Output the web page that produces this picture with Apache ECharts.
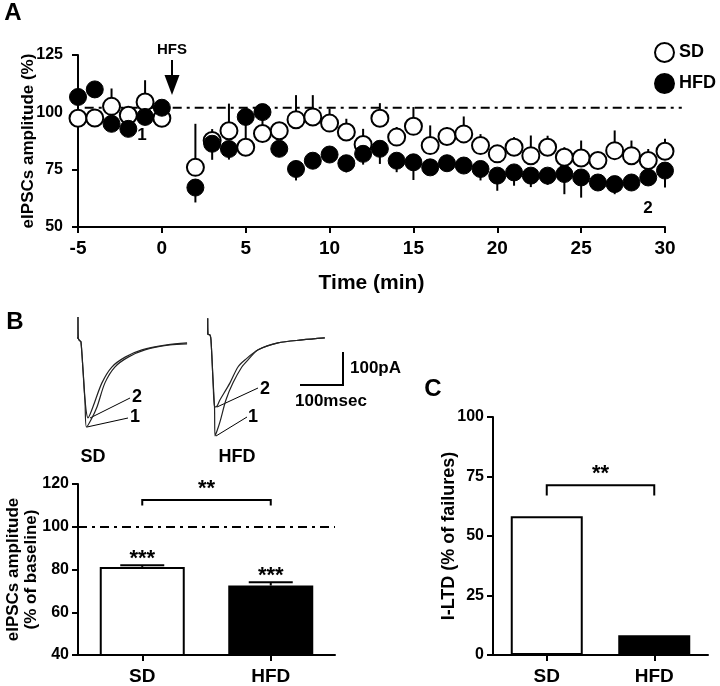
<!DOCTYPE html>
<html lang="en">
<head>
<meta charset="UTF-8">
<title>I-LTD in SD and HFD</title>
<script src="https://cdn.jsdelivr.net/npm/echarts@6/dist/echarts.min.js"></script>
<style>html,body{margin:0;background:#fff;}</style>
</head>
<body>
<div id="main" style="width:720px;height:686px;"></div>
<script>
// ---- panel A: time course (% of baseline) ----
const times = [-5, -4, -3, -2, -1, 0, 2, 3, 4, 5, 6, 7, 8, 9, 10, 11, 12, 13, 14, 15, 16, 17, 18, 19, 20, 21, 22, 23, 24, 25, 26, 27, 28, 29, 30];
const sdMean = [97.4, 97.5, 102.6, 98.7, 104.5, 97.4, 76, 87.7, 92, 84.8, 90.8, 92, 96.8, 98, 95.3, 91.4, 86, 97.4, 89.2, 93.9, 85.5, 89.5, 90.6, 85.5, 81.9, 84.8, 81.1, 84.8, 80.4, 80.1, 79, 83.3, 81.1, 79, 83];
const sdErr = [0, 0, 7.8, 0, 9.5, 2, 19, 5, 11.8, 0, 0, 3, 10.7, 9.5, 6.3, 5.8, 6.8, 6.6, 4.4, 8.4, 8.8, 4, 7.6, 5, 3, 4.4, 8.8, 5, 4.4, 7.6, 3, 8.8, 6.6, 5, 5.5];
const hfdMean = [106.7, 110, 95, 92.8, 98, 102, 67.2, 86.3, 84, 98, 100.1, 84.1, 75.3, 78.9, 81.6, 77.8, 81.9, 84.1, 78.9, 78.2, 76, 77.8, 76.8, 75.3, 72.4, 73.8, 72.4, 72.4, 73.1, 71.6, 69.4, 68.7, 69.4, 71.6, 74.6];
const hfdErr = [0, 0, 0, 3, 0, 0, 6.5, 7, 4.6, 13, 8, 0, 5, 2, 2, 4, 4.7, 6.6, 5, 7.7, 3, 3, 3, 5, 6.6, 5.8, 5, 4, 8.8, 8.8, 3, 4.4, 3, 3, 7.4];
const baselineA = 102;

// ---- panel B: mean amplitude ----
const groups = ['SD', 'HFD'];
const ampMean = [81.2, 72.5];
const ampErr = [0.8, 1.5];

// ---- panel C: % of failures ----
const failPct = [58.3, 8.3];

// ---- panel B traces, [ms, pA] ----
const sdTrace1 = [[-8, 0], [-4.7, 0], [-4.7, 64], [-4.2, 0], [-3, -4], [0, -9], [2.3, -12], [7, -97], [11.6, -188], [15, -270], [25.6, -248], [39.5, -209], [58, -136], [81, -88], [112, -58], [151, -36], [209, -21], [249, -18]];
const sdTrace2 = [[-8, 0], [-4.7, 0], [-4.7, 64], [-4.2, 0], [-3, -4], [0, -9], [2.3, -12], [7, -97], [11.6, -188], [18.6, -242], [30, -209], [51, -136], [74, -88], [105, -58], [144, -36], [202, -21], [249, -15]];
const hfdTrace1 = [[-8, 0], [-5.3, 0], [-5.3, 48], [-4.7, 0], [0, -3], [2.3, -18], [7, -139], [10.5, -221], [11.6, -309], [23, -267], [37, -200], [53.5, -148], [74, -100], [88, -79], [112, -48], [158, -27], [214, -18], [267, -12]];
const hfdTrace2 = [[-8, 0], [-5.3, 0], [-5.3, 48], [-4.7, 0], [0, -3], [2.3, -18], [7, -139], [10.5, -221], [14, -221], [23, -200], [46.5, -148], [65, -100], [81, -79], [112, -48], [158, -27], [214, -18], [267, -12]];

const FONT = "'Liberation Sans', Arial, sans-serif";
const dashDot = [9, 5, 3, 5];

let myChart = echarts.init(document.getElementById('main'));

function axisBase(fontSize) {
  return {
    nameMoveOverlap: false,
    axisLine: { show: true, onZero: false, lineStyle: { color: '#000', width: 2 } },
    axisTick: { show: true, length: 6, lineStyle: { color: '#000', width: 2 } },
    axisLabel: { color: '#000', fontWeight: 'bold', fontSize: fontSize, fontFamily: FONT },
    splitLine: { show: false },
    nameTextStyle: { color: '#000', fontWeight: 'bold', fontFamily: FONT }
  };
}
function merge(a, b) {
  const out = Object.assign({}, a, b);
  ['axisLine', 'axisTick', 'axisLabel', 'nameTextStyle'].forEach(k => {
    if (a[k] && b[k]) out[k] = Object.assign({}, a[k], b[k]);
  });
  return out;
}
function hiddenAxis(extra) {
  return Object.assign({ type: 'value', show: false, splitLine: { show: false } }, extra);
}

// vertical error bar (one-sided), value 2 is signed
function errLine(params, api) {
  const p0 = api.coord([api.value(0), api.value(1)]);
  const p1 = api.coord([api.value(0), api.value(1) + api.value(2)]);
  return { type: 'line', shape: { x1: p0[0], y1: p0[1], x2: p1[0], y2: p1[1] },
    style: { stroke: '#000', lineWidth: 2 } };
}
// horizontal dash-dot reference line [x0, x1, y]
function refLine(params, api) {
  const a = api.coord([api.value(0), api.value(2)]);
  const b = api.coord([api.value(1), api.value(2)]);
  return { type: 'line', shape: { x1: a[0], y1: a[1], x2: b[0], y2: b[1] },
    style: { stroke: '#000', lineWidth: 2, lineDash: dashDot } };
}
// bar error bar with cap and stars
function barErr(params, api) {
  const p0 = api.coord([api.value(0), api.value(1)]);
  const p1 = api.coord([api.value(0), api.value(1) + api.value(2)]);
  return { type: 'group', children: [
    { type: 'line', shape: { x1: p0[0], y1: p0[1], x2: p1[0], y2: p1[1] }, style: { stroke: '#000', lineWidth: 2 } },
    { type: 'line', shape: { x1: p1[0] - 22, y1: p1[1], x2: p1[0] + 22, y2: p1[1] }, style: { stroke: '#000', lineWidth: 2 } },
    { type: 'text', x: p1[0], y: p1[1] - 6, style: { text: '***', fontSize: 22, fontWeight: 'bold', fontFamily: FONT, align: 'center', verticalAlign: 'middle', fill: '#000' } }
  ] };
}
// significance bracket between two categories
function bracket(params, api) {
  const a = api.coord([api.value(0), api.value(2)]);
  const b = api.coord([api.value(1), api.value(2)]);
  const leg = api.coord([api.value(0), api.value(3)])[1];
  return { type: 'group', children: [
    { type: 'polyline', shape: { points: [[a[0], leg], [a[0], a[1]], [b[0], b[1]], [b[0], leg]] }, style: { stroke: '#000', lineWidth: 2, fill: null } },
    { type: 'text', x: (a[0] + b[0]) / 2, y: a[1] - 11, style: { text: '**', fontSize: 22, fontWeight: 'bold', fontFamily: FONT, align: 'center', verticalAlign: 'middle', fill: '#000' } }
  ] };
}

const txt = (x, y, text, size, align) => ({
  type: 'text', x: x, y: y,
  style: { text: text, fontSize: size, fontWeight: 'bold', fontFamily: FONT, fill: '#000', align: align || 'center', verticalAlign: 'middle' }
});
const seg = (x1, y1, x2, y2, w) => ({
  type: 'line', shape: { x1: x1, y1: y1, x2: x2, y2: y2 }, style: { stroke: '#000', lineWidth: w || 1 }
});

let options = {
  animation: false,
  backgroundColor: '#fff',
  textStyle: { fontFamily: FONT },
  legend: {
    data: ['SD', 'HFD'], orient: 'vertical', left: 649, top: 37,
    icon: 'circle', itemWidth: 19, itemHeight: 19, itemGap: 10,
    textStyle: { fontSize: 18, fontWeight: 'bold', fontFamily: FONT, color: '#000' }
  },
  grid: [
    { left: 78, top: 55, width: 587, height: 172 },
    { left: 78, top: 484, width: 257, height: 173 },
    { left: 493, top: 417, width: 215, height: 240 },
    { left: 77.85, top: 314.9, width: 109.65, height: 122.1 },
    { left: 207.85, top: 314.2, width: 118.25, height: 125.4 }
  ],
  xAxis: [
    merge(axisBase(19), { gridIndex: 0, type: 'value', min: -5, max: 30, interval: 5,
      name: 'Time (min)', nameLocation: 'middle', nameGap: 46,
      nameTextStyle: { fontSize: 21 }, axisLabel: { margin: 12 } }),
    merge(axisBase(19), { gridIndex: 1, type: 'category', data: groups,
      axisTick: { alignWithLabel: true }, axisLabel: { margin: 12 } }),
    merge(axisBase(19), { gridIndex: 2, type: 'category', data: groups,
      axisTick: { alignWithLabel: true }, axisLabel: { margin: 12 } }),
    hiddenAxis({ gridIndex: 3, min: -5, max: 250 }),
    hiddenAxis({ gridIndex: 4, min: -5, max: 270 })
  ],
  yAxis: [
    merge(axisBase(16), { gridIndex: 0, type: 'value', min: 50, max: 125, interval: 25,
      name: 'eIPSCs amplitude (%)', nameLocation: 'middle', nameGap: 41,
      nameTextStyle: { fontSize: 17 }, axisLabel: { margin: 15 } }),
    merge(axisBase(16), { gridIndex: 1, type: 'value', min: 40, max: 120, interval: 20,
      name: 'eIPSCs amplitude\n(% of baseline)', nameLocation: 'middle', nameGap: 38,
      nameTextStyle: { fontSize: 17, lineHeight: 18 }, axisLabel: { margin: 9 } }),
    merge(axisBase(16), { gridIndex: 2, type: 'value', min: 0, max: 100, interval: 25,
      name: 'I-LTD (% of failures)', nameLocation: 'middle', nameGap: 35,
      nameTextStyle: { fontSize: 18 }, axisLabel: { margin: 9 } }),
    hiddenAxis({ gridIndex: 3, min: -300, max: 70 }),
    hiddenAxis({ gridIndex: 4, min: -320, max: 60 })
  ],
  series: [
    { name: 'baseline', type: 'custom', xAxisIndex: 0, yAxisIndex: 0, renderItem: refLine,
      data: [[-4.6, 31, baselineA]] },
    { name: 'SD err', type: 'custom', xAxisIndex: 0, yAxisIndex: 0, renderItem: errLine,
      data: times.map((t, i) => [t, sdMean[i], sdErr[i]]) },
    { name: 'SD', type: 'scatter', xAxisIndex: 0, yAxisIndex: 0, symbolSize: 17, clip: false,
      itemStyle: { color: '#fff', borderColor: '#000', borderWidth: 2, opacity: 1 },
      data: times.map((t, i) => [t, sdMean[i]]) },
    { name: 'HFD err', type: 'custom', xAxisIndex: 0, yAxisIndex: 0, renderItem: errLine,
      data: times.map((t, i) => [t, hfdMean[i], -hfdErr[i]]) },
    { name: 'HFD', type: 'scatter', xAxisIndex: 0, yAxisIndex: 0, symbolSize: 17, clip: false,
      itemStyle: { color: '#000', borderColor: '#000', borderWidth: 1, opacity: 1 },
      data: times.map((t, i) => [t, hfdMean[i]]) },

    { name: 'amp', type: 'bar', xAxisIndex: 1, yAxisIndex: 1, barWidth: 85,
      data: ampMean.map((v, i) => ({ value: v, itemStyle: i === 0
        ? { color: '#fff', borderColor: '#000', borderWidth: 2 }
        : { color: '#000', borderColor: '#000', borderWidth: 2 } })),
      markLine: { silent: true, symbol: 'none', label: { show: false },
        lineStyle: { color: '#000', width: 2, type: dashDot }, data: [{ yAxis: 100 }] } },
    { name: 'amp err', type: 'custom', xAxisIndex: 1, yAxisIndex: 1, renderItem: barErr,
      data: ampMean.map((v, i) => [i, v, ampErr[i]]) },
    { name: 'amp sig', type: 'custom', xAxisIndex: 1, yAxisIndex: 1, renderItem: bracket,
      data: [[0, 1, 112.5, 110]] },

    { name: 'fail', type: 'bar', xAxisIndex: 2, yAxisIndex: 2, barWidth: 72,
      data: failPct.map((v, i) => ({ value: v, itemStyle: i === 0
        ? { color: '#fff', borderColor: '#000', borderWidth: 2 }
        : { color: '#000', borderColor: '#000', borderWidth: 2 } })) },
    { name: 'fail sig', type: 'custom', xAxisIndex: 2, yAxisIndex: 2, renderItem: bracket,
      data: [[0, 1, 71.3, 67]] },

    { type: 'line', xAxisIndex: 3, yAxisIndex: 3, data: sdTrace1, showSymbol: false, smooth: 0.3,
      lineStyle: { color: '#222', width: 1.2 } },
    { type: 'line', xAxisIndex: 3, yAxisIndex: 3, data: sdTrace2, showSymbol: false, smooth: 0.3,
      lineStyle: { color: '#222', width: 1.2 } },
    { type: 'line', xAxisIndex: 4, yAxisIndex: 4, data: hfdTrace1, showSymbol: false, smooth: 0.3,
      lineStyle: { color: '#222', width: 1.2 } },
    { type: 'line', xAxisIndex: 4, yAxisIndex: 4, data: hfdTrace2, showSymbol: false, smooth: 0.3,
      lineStyle: { color: '#222', width: 1.2 } }
  ],
  graphic: [
    txt(13, 13, 'A', 24), txt(15, 322, 'B', 24), txt(433, 389, 'C', 24),
    // HFS arrow
    txt(172, 50, 'HFS', 15),
    seg(172, 60, 172, 78, 2),
    { type: 'polygon', shape: { points: [[164.5, 75], [179.5, 75], [172, 95]] }, style: { fill: '#000' } },
    txt(142, 135, '1', 17), txt(648, 208, '2', 17),
    // trace labels
    seg(90, 418, 130, 398), seg(87, 427, 128, 418),
    txt(137, 397, '2', 18), txt(135, 417, '1', 18),
    seg(217, 407, 258, 388), seg(216, 436, 247, 417),
    txt(265, 389, '2', 18), txt(253, 417, '1', 18),
    txt(93, 457, 'SD', 18), txt(237, 457, 'HFD', 18),
    // scale bar
    { type: 'polyline', shape: { points: [[300, 385], [343, 385], [343, 352]] }, style: { stroke: '#000', lineWidth: 2, fill: null } },
    txt(350, 368, '100pA', 17, 'left'),
    txt(295, 401, '100msec', 17, 'left')
  ]
};

myChart.setOption(options);
</script>
</body>
</html>
